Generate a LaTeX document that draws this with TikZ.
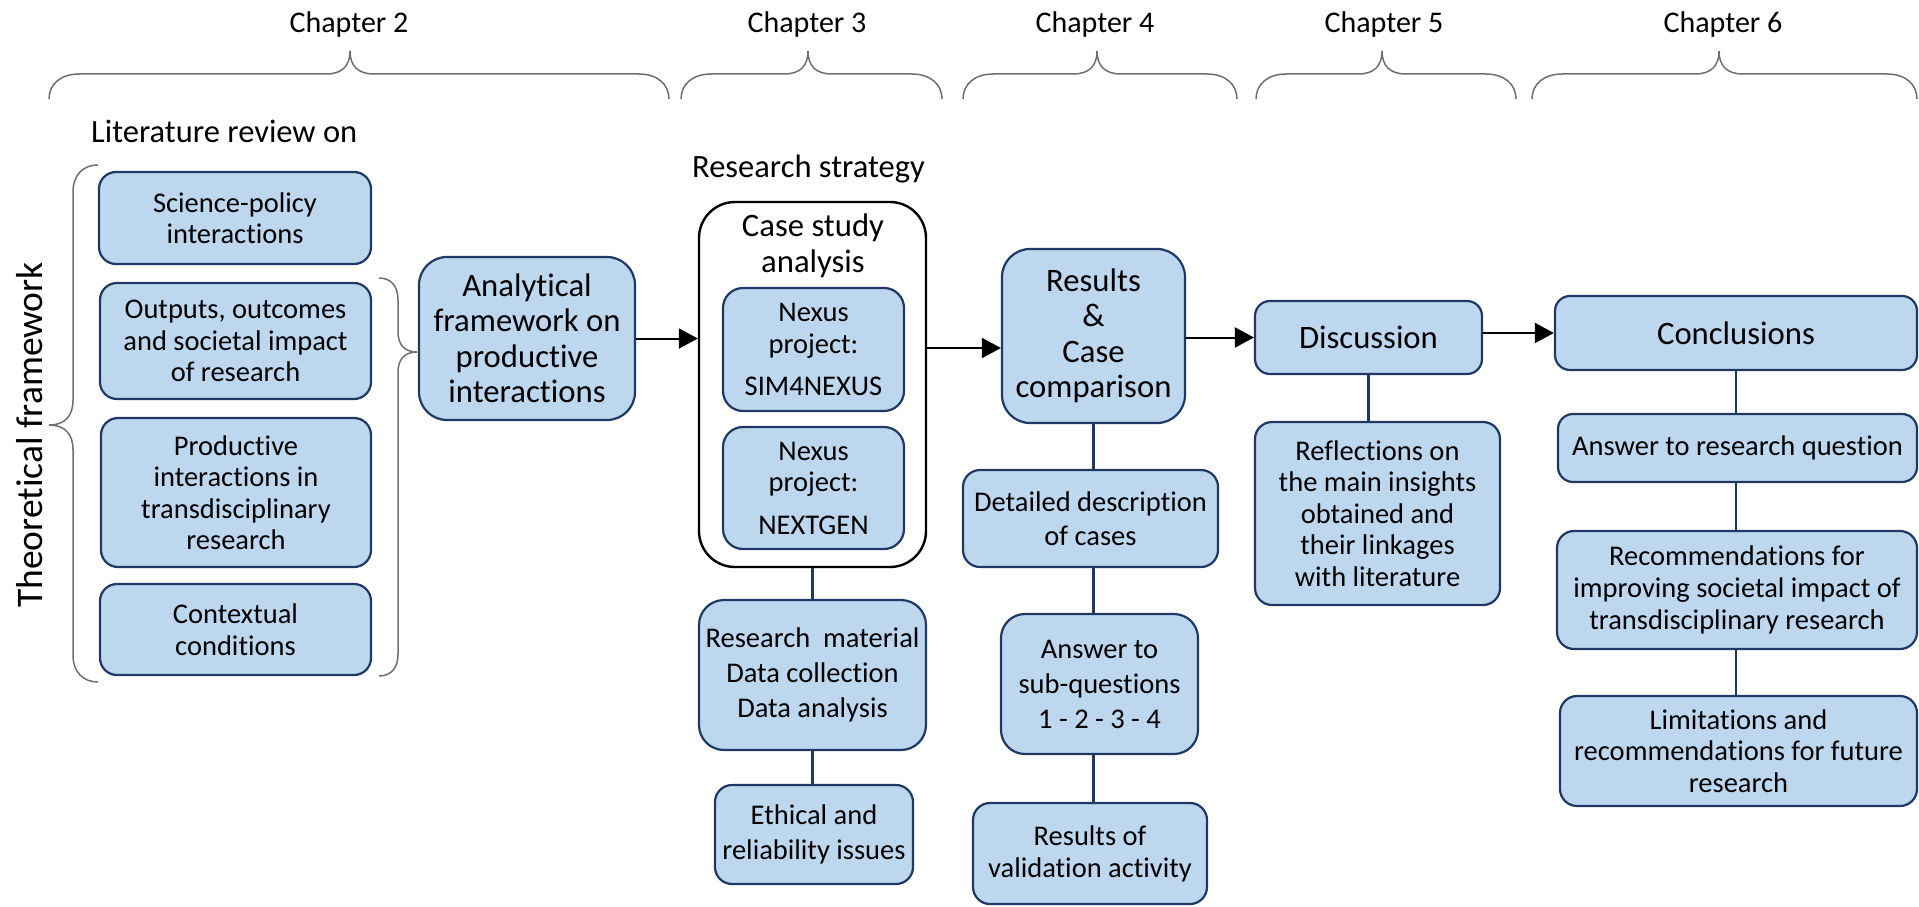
\documentclass[tikz,border=0pt]{standalone}
\usepackage{fontspec}
\setmainfont{Carlito}[Ligatures=NoCommon]
\usetikzlibrary{arrows.meta}

\definecolor{boxfill}{HTML}{BDD7EE}
\definecolor{boxline}{HTML}{203864}
\definecolor{bracegray}{HTML}{6E6E6E}

\newcommand{\boxfont}{\fontsize{28.5}{31.5}\selectfont}
\newcommand{\bigboxfont}{\fontsize{32.7}{35.5}\selectfont}

% curly brace over one chapter: left end, tip, right end
\newcommand{\chapbrace}[3]{%
  \draw[bracestyle] (#1,99) .. controls (#1,84) and (#1+12,74) .. (#1+30,74)
    -- (#2-24,74) .. controls (#2-8,74) and (#2,66) .. (#2,51)
    .. controls (#2,66) and (#2+8,74) .. (#2+24,74)
    -- (#3-30,74) .. controls (#3-12,74) and (#3,84) .. (#3,99);}

\tikzset{
  box/.style={draw=boxline, fill=boxfill, line width=2.2pt, rounded corners=#1,
    align=center, inner sep=1pt, font=\boxfont, text=black},
  box/.default=17pt,
  size/.style 2 args={minimum width=#1pt, minimum height=#2pt},
  bigtext/.style={font=\bigboxfont},
  spacing/.style={font=\fontsize{28.5}{#1}\selectfont},
  casebox/.style={draw=black, fill=white, line width=2.4pt, rounded corners=36pt,
    minimum width=227pt, minimum height=365pt, inner sep=0pt},
  bracestyle/.style={draw=bracegray, line width=1.5pt},
  link/.style={draw=boxline, line width=2.2pt},
  arr/.style={draw=black, line width=2pt, -{Triangle[length=19pt,width=20pt]}},
  chap/.style={font=\fontsize{30}{32}\selectfont, anchor=base, inner sep=0pt},
  heading/.style={font=\fontsize{32.5}{34}\selectfont, anchor=base west, inner sep=0pt},
}

\begin{document}
\begin{tikzpicture}[x=1pt, y=-1pt]
\useasboundingbox (0,0) rectangle (1919,907);

% chapter headings and their braces
\node[chap] (ch2) at (349,33) {Chapter 2};
\node[chap] (ch3) at (807,33) {Chapter 3};
\node[chap] (ch4) at (1095,33) {Chapter 4};
\node[chap] (ch5) at (1384,33) {Chapter 5};
\node[chap] (ch6) at (1723,33) {Chapter 6};
\chapbrace{49}{350}{669}
\chapbrace{681}{808}{942}
\chapbrace{963}{1097}{1237}
\chapbrace{1256}{1382}{1516}
\chapbrace{1532}{1719}{1917}

% chapter 2: literature review
\node[heading] (litrev) at (91,142) {Literature review on};
\node[font=\fontsize{37.5}{40}\selectfont, rotate=90, anchor=base, inner sep=0pt]
  (theo) at (42,435) {Theoretical framework};
\draw[bracestyle] (98,165) .. controls (84,165) and (73,174) .. (73,192)
  -- (73,400) .. controls (73,416) and (65,425) .. (49,425)
  .. controls (65,425) and (73,434) .. (73,450)
  -- (73,655) .. controls (73,673) and (84,682) .. (98,682);

\node[box, size={272}{92}] (sci) at (235,218) {Science-policy\\interactions};
\node[box, size={271}{116}] (out) at (235.5,341) {Outputs, outcomes\\and societal impact\\of research};
\node[box, size={270}{149}] (prod) at (236,492.5) {Productive\\interactions in\\transdisciplinary\\research};
\node[box, size={271}{91}] (ctx) at (235.5,629.5) {Contextual\\conditions};

\draw[bracestyle] (379,278) .. controls (391,278) and (398,286) .. (398,300)
  -- (398,332) .. controls (398,345) and (405,352) .. (417,352)
  .. controls (405,352) and (398,359) .. (398,372)
  -- (398,654) .. controls (398,668) and (391,676) .. (379,676);

\node[box=28pt, bigtext, size={216}{163}] (ana) at (527,338.5)
  {Analytical\\framework on\\productive\\interactions};

% chapter 3: research strategy
\node[heading] (strat) at (692,177) {Research strategy};
\node[casebox] (case) at (812.5,384.5) {};
\node[font=\bigboxfont, align=center, inner sep=0pt] (casettl) at (813,246) {Case study\\analysis};
\node[box=20pt, size={181}{123}] (sim) at (813.5,349.5) {Nexus\\project:\\[11pt]SIM4NEXUS};
\node[box=20pt, size={181}{122}] (nxg) at (813.5,488) {Nexus\\project:\\[11pt]NEXTGEN};
\node[box=25pt, spacing=35, size={227}{150}] (rm) at (812.5,675)
  {Research\ \ material\\Data collection\\Data analysis};
\node[box, spacing=35, size={198}{99}] (eth) at (814,834.5) {Ethical and\\reliability issues};

% chapter 4: results
\node[box=28pt, bigtext, size={183}{174}] (res) at (1093.5,336) {Results\\\&\\Case\\comparison};
\node[box, spacing=34, size={255}{97}] (det) at (1090.5,518.5) {Detailed description\\of cases};
\node[box=24pt, spacing=35, size={197}{140}] (asq) at (1099.5,684) {Answer to\\sub-questions\\1 - 2 - 3 - 4};
\node[box, spacing=32, size={234}{101}] (val) at (1090,853.5) {Results of\\validation activity};

% chapter 5: discussion
\node[box=15pt, bigtext, size={227}{73}] (disc) at (1368.5,337.5) {Discussion};
\node[box, size={245}{183}] (refl) at (1377.5,513.5)
  {Reflections on\\the main insights\\obtained and\\their linkages\\with literature};

% chapter 6: conclusions
\node[box=15pt, bigtext, size={362}{74}] (conc) at (1736,333) {Conclusions};
\node[box=15pt, size={359}{68}] (arq) at (1737.5,448) {Answer to research question};
\node[box, spacing=32, size={360}{118}] (rec) at (1737,590)
  {Recommendations for\\improving societal impact of\\transdisciplinary research};
\node[box, size={357}{110}] (lim) at (1738.5,751)
  {Limitations and\\recommendations for future\\research};

% main flow
\draw[arr] (ana.east) -- (ana.east -| case.west);
\draw[arr] ([yshift=-12pt]res.west -| case.east) -- ([yshift=-12pt]res.west);
\draw[arr] (res.east |- disc.west) -- (disc.west);
\draw[arr] (disc.east |- conc.west) -- (conc.west);

% links to detail boxes
\draw[link] (case.south) -- (rm.north);
\draw[link] (rm.south) -- (rm.south |- eth.north);
\draw[link] (res.south) -- (res.south |- det.north);
\draw[link] (res.south |- det.south) -- (res.south |- asq.north);
\draw[link] (res.south |- asq.south) -- (res.south |- val.north);
\draw[link] (disc.south) -- (disc.south |- refl.north);
\draw[link] (conc.south) -- (conc.south |- arq.north);
\draw[link] (conc.south |- arq.south) -- (conc.south |- rec.north);
\draw[link] (conc.south |- rec.south) -- (conc.south |- lim.north);
\end{tikzpicture}
\end{document}
